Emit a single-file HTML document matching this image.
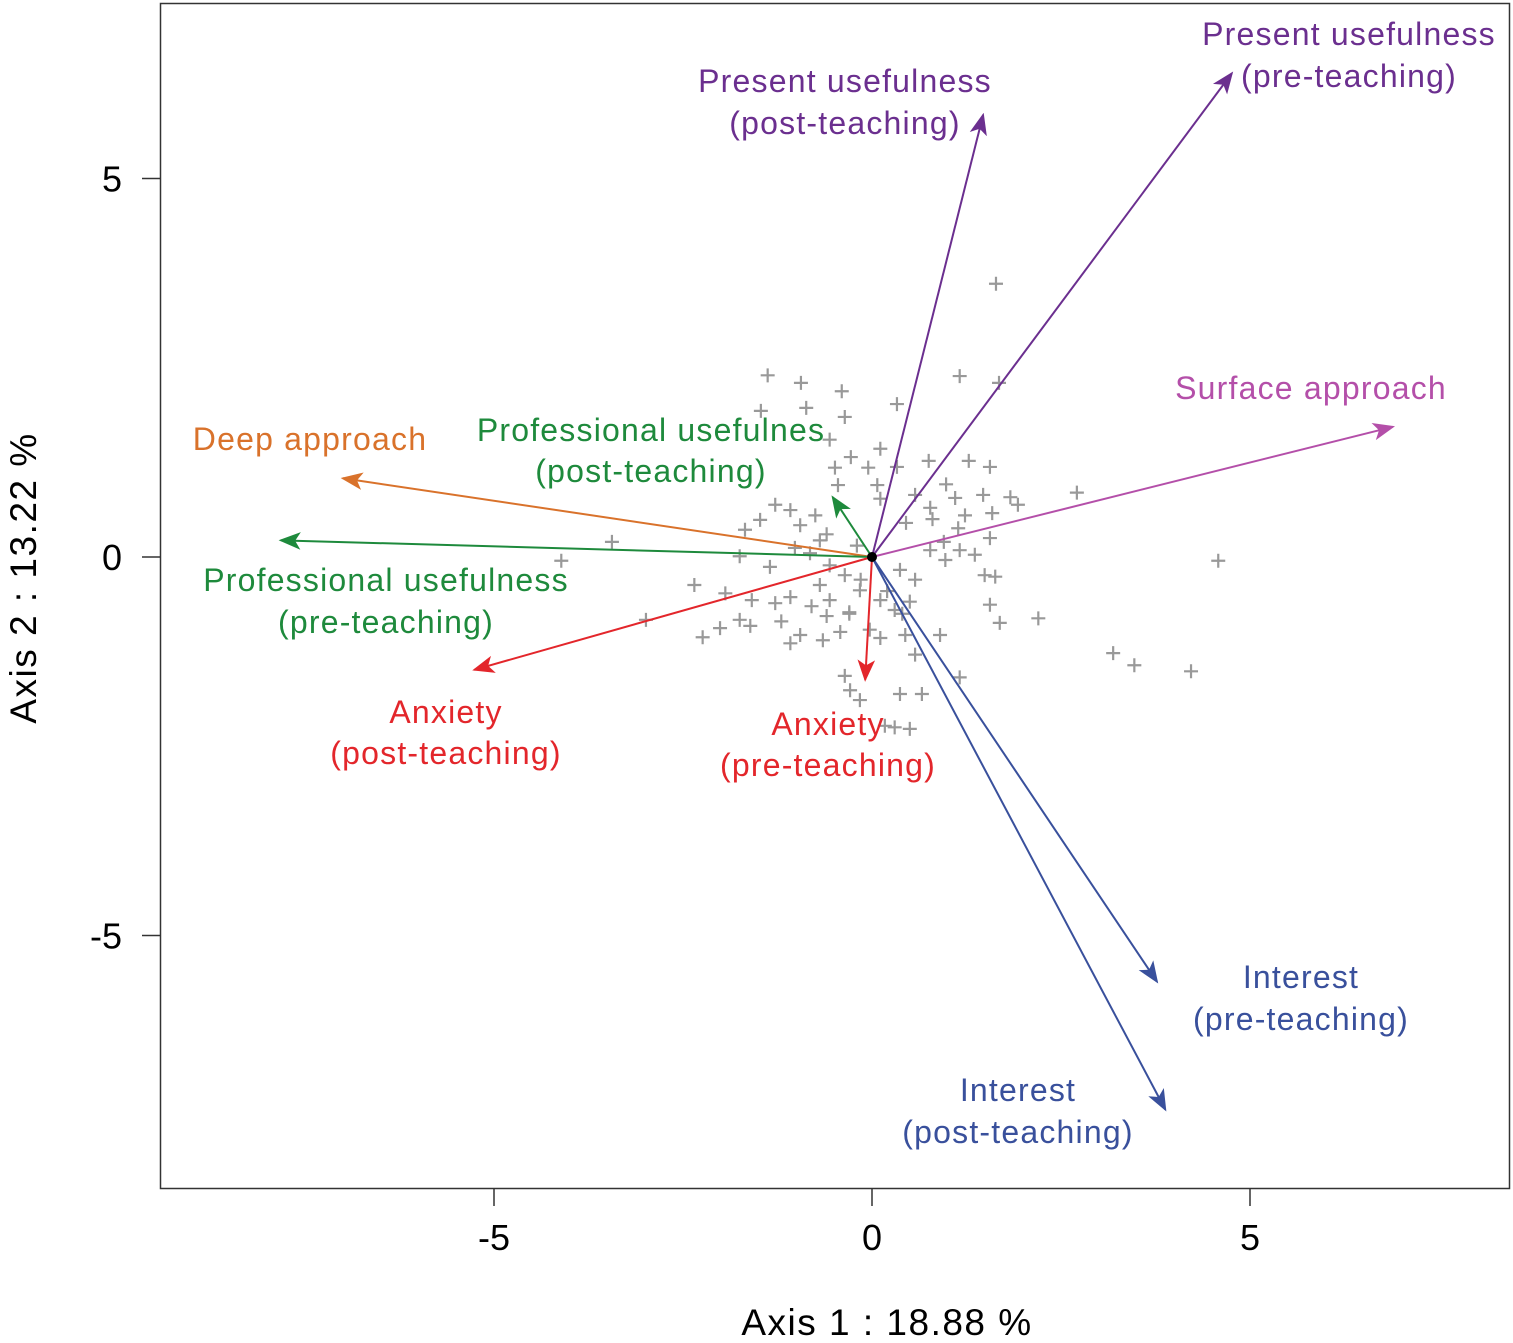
<!DOCTYPE html>
<html><head><meta charset="utf-8"><style>
html,body{margin:0;padding:0;background:#fff}
svg{display:block;font-family:"Liberation Sans",Arial,sans-serif}
</style></head><body>
<svg id="chart" width="1513" height="1343" viewBox="0 0 1513 1343" xmlns="http://www.w3.org/2000/svg">
<defs>
<marker id="ah" viewBox="0 0 20 20" refX="18" refY="10" markerWidth="22" markerHeight="22" markerUnits="userSpaceOnUse" orient="auto">
<path d="M0,2 L20,10 L0,18 L5,10 Z" fill="context-stroke"/>
</marker>
</defs>
<rect x="160.5" y="3.5" width="1349" height="1185" fill="none" stroke="#333" stroke-width="1.5"/>
<g id="points"></g><g id="arrows"></g><g id="axes"></g><g id="labels"></g>
<text x="887" y="1335" font-size="37" letter-spacing="1.5" text-anchor="middle">Axis 1 : 18.88 %</text>
<text transform="translate(36,578) rotate(-90)" font-size="37" letter-spacing="1.5" text-anchor="middle">Axis 2 : 13.22 %</text>
</svg>
<script>
const ptX=[1.64,-1.38,-0.94,-0.40,1.16,1.68,0.33,-1.47,-0.87,-0.36,0.11,-0.56,-0.28,-0.05,0.33,0.75,1.28,1.56,0.98,1.47,1.83,1.93,2.71,-0.49,-0.45,0.07,0.11,0.57,0.77,1.10,1.23,1.59,1.14,1.56,1.16,1.36,-1.68,-1.48,-1.28,-1.08,-0.95,-0.75,-0.69,-1.02,-0.82,-1.75,-3.44,-4.11,4.58,-0.56,-0.36,-0.16,0.37,0.57,0.77,0.97,1.49,1.63,-1.35,-2.35,-1.94,-1.59,-1.28,-1.08,-0.69,-0.56,0.11,0.30,0.50,1.56,1.69,2.20,-2.99,-2.24,-2.01,-1.75,-1.61,-1.08,-0.95,-0.65,-0.42,-0.03,0.11,0.44,0.90,0.57,1.16,3.19,3.47,4.22,-0.36,-0.29,-0.16,0.37,0.66,0.30,0.50,0.17,-0.60,-0.20,0.45,0.80,0.95,-0.30,-0.15,0.20,0.40,-0.30,-0.60,-0.80,-1.20];
const ptY=[3.61,2.40,2.30,2.19,2.39,2.30,2.02,1.93,1.97,1.85,1.43,1.55,1.32,1.18,1.19,1.27,1.27,1.19,0.96,0.82,0.79,0.69,0.85,1.18,0.95,0.95,0.77,0.82,0.65,0.78,0.55,0.58,0.38,0.25,0.09,0.03,0.36,0.49,0.69,0.62,0.42,0.55,0.22,0.12,0.05,0.01,0.20,-0.05,-0.05,-0.11,-0.24,-0.44,-0.17,-0.30,0.09,-0.04,-0.24,-0.26,-0.13,-0.37,-0.48,-0.57,-0.61,-0.53,-0.37,-0.57,-0.57,-0.70,-0.59,-0.63,-0.87,-0.81,-0.83,-1.06,-0.94,-0.83,-0.91,-1.14,-1.03,-1.10,-0.99,-0.96,-1.07,-1.03,-1.03,-1.29,-1.59,-1.27,-1.43,-1.51,-1.57,-1.76,-1.89,-1.81,-1.81,-2.25,-2.27,-2.23,0.30,0.15,0.45,0.50,0.20,-0.75,-0.30,-0.45,-0.75,-0.73,-0.78,-0.65,-0.85];
const arrNames=["present-post","present-pre","surface","deep","prof-post","prof-pre","anxiety-post","anxiety-pre","interest-pre","interest-post"];
const arrX=[1.47,4.76,6.89,-7.0,-0.52,-7.82,-5.26,-0.09,3.77,3.88];
const arrY=[5.84,6.39,1.72,1.04,0.79,0.22,-1.49,-1.62,-5.61,-7.30];
const arrColors=["#6b2f8f","#6b2f8f","#b44fa9","#d9722b","#1e8a3c","#1e8a3c","#e3262b","#e3262b","#39509c","#39509c"];
const xTicks=[-5,0,5], yTicks=[5,0,-5];
const labels=[
 ["Present usefulness",845,92,"#6b2f8f"],["(post-teaching)",845,134,"#6b2f8f"],
 ["Present usefulness",1349,45,"#6b2f8f"],["(pre-teaching)",1349,87,"#6b2f8f"],
 ["Surface approach",1311,399,"#b44fa9"],["Deep approach",310,450,"#d9722b"],
 ["Professional usefulnes",651,441,"#1e8a3c"],["(post-teaching)",651,482,"#1e8a3c"],
 ["Professional usefulness",386,591,"#1e8a3c"],["(pre-teaching)",386,633,"#1e8a3c"],
 ["Anxiety",446,723,"#e3262b"],["(post-teaching)",446,764,"#e3262b"],
 ["Anxiety",828,735,"#e3262b"],["(pre-teaching)",828,776,"#e3262b"],
 ["Interest",1301,988,"#39509c"],["(pre-teaching)",1301,1030,"#39509c"],
 ["Interest",1018,1101,"#39509c"],["(post-teaching)",1018,1143,"#39509c"]];
const sx=v=>872+v*75.6, sy=v=>557-v*75.7;
const NS="http://www.w3.org/2000/svg";
function mk(tag,attrs,parent){const e=document.createElementNS(NS,tag);for(const k in attrs)e.setAttribute(k,attrs[k]);parent.appendChild(e);return e;}
const gp=document.getElementById('points');
ptX.forEach((x,i)=>{const cx=sx(x),cy=sy(ptY[i]);
 const p=mk('path',{d:`M${cx-7},${cy}H${cx+7}M${cx},${cy-7}V${cy+7}`,stroke:'#999','stroke-width':2.2},gp);
 
 });
const ga=document.getElementById('arrows');
arrX.forEach((x,i)=>{const l=mk('line',{x1:sx(0),y1:sy(0),x2:sx(x),y2:sy(arrY[i]),stroke:arrColors[i],'stroke-width':2,'marker-end':'url(#ah)'},ga);
 
 });
const o=mk('circle',{cx:sx(0),cy:sy(0),r:5,fill:'#000'},ga);


const gx=document.getElementById('axes');
xTicks.forEach(t=>{const l=mk('line',{x1:sx(t),x2:sx(t),y1:1188,y2:1206,stroke:'#333','stroke-width':1.5},gx);
 
 
 const tx=mk('text',{x:sx(t),y:1250,'font-size':36,'text-anchor':'middle'},gx);tx.textContent=t;
 
 });
yTicks.forEach(t=>{const l=mk('line',{x1:142,x2:160,y1:sy(t),y2:sy(t),stroke:'#333','stroke-width':1.5},gx);
 
 
 const tx=mk('text',{x:122,y:sy(t)+13,'font-size':36,'text-anchor':'end'},gx);tx.textContent=t;
 
 });
const gl=document.getElementById('labels');
labels.forEach(a=>{const t=mk('text',{x:a[1],y:a[2],fill:a[3],'font-size':32,'letter-spacing':'1.2','text-anchor':'middle'},gl);t.textContent=a[0];
 
 });
</script>
</body></html>
